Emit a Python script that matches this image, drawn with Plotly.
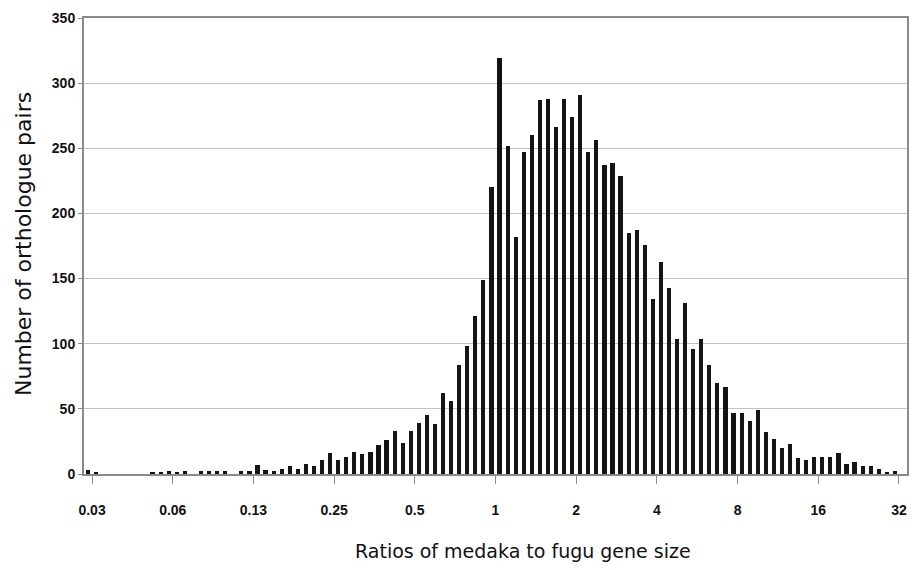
import plotly.graph_objects as go

# Histogram bins: bin k covers ratios 2^(k/10) .. 2^((k+1)/10)
bin_index = list(range(-51, 50))
counts = [
    3, 1, 0, 0, 0, 0, 0, 0,                      # k = -51 .. -44
    1, 1, 2, 1, 2, 0, 2, 2, 2, 2, 0, 2, 2, 7,    # k = -43 .. -30
    3, 2, 4, 6, 4, 8, 6, 11, 16, 11, 13, 17,     # k = -29 .. -18
    15, 17, 22, 26, 33, 24, 33, 39, 45, 38,      # k = -17 .. -8
    62, 56, 84, 98, 121, 149, 220,               # k = -7 .. -1
    319, 252, 182, 247, 260, 287, 288, 266, 288, 274,   # k = 0 .. 9
    291, 247, 256, 237, 239, 229, 185, 187, 176, 134,   # k = 10 .. 19
    163, 143, 104, 131, 96, 104, 84, 70, 67, 47,        # k = 20 .. 29
    47, 41, 49, 32, 27, 20, 23, 12, 11, 13,             # k = 30 .. 39
    13, 13, 16, 8, 9, 6, 6, 4, 1, 2,                    # k = 40 .. 49
]
tick_log2 = [-5, -4, -3, -2, -1, 0, 1, 2, 3, 4, 5]
tick_labels = ["0.03", "0.06", "0.13", "0.25", "0.5", "1", "2", "4", "8", "16", "32"]
y_ticks = [0, 50, 100, 150, 200, 250, 300, 350]

bins_per_doubling = 10
bin_centers = [(k + 0.5) / bins_per_doubling for k in bin_index]

fig = go.Figure()
fig.add_trace(go.Bar(
    x=bin_centers,
    y=counts,
    width=0.052,
    marker=dict(color="#141414", line=dict(width=0)),
    showlegend=False,
))

axis_grey = "#8a8a8a"
tick_font = dict(family="Liberation Sans, Arial, sans-serif", size=14, color="#111111", weight="bold")

# page body has an 8px default margin, so the figure is sized to fit the window
fig.update_layout(
    width=909,
    height=562,
    margin=dict(l=76, r=10, t=10, b=96),
    paper_bgcolor="white",
    plot_bgcolor="white",
    bargap=0,
    xaxis=dict(
        range=[-5.1, 5.1],
        tickmode="array",
        tickvals=tick_log2,
        ticktext=tick_labels,
        ticks="outside",
        ticklen=8,
        tickwidth=1,
        tickcolor=axis_grey,
        ticklabelstandoff=14,
        showgrid=False,
        zeroline=False,
        showline=True,
        linecolor=axis_grey,
        linewidth=2,
        mirror=True,
        tickfont=tick_font,
        automargin=False,
    ),
    yaxis=dict(
        range=[0, 350],
        tickmode="array",
        tickvals=y_ticks,
        ticks="outside",
        ticklen=4,
        tickcolor=axis_grey,
        showgrid=True,
        gridcolor="#c4c4c4",
        gridwidth=1.3,
        zeroline=False,
        showline=True,
        linecolor=axis_grey,
        linewidth=2,
        mirror=True,
        tickfont=tick_font,
        automargin=False,
    ),
    annotations=[
        dict(
            text="Ratios of medaka to fugu gene size",
            xref="paper", yref="paper",
            x=(523 - 84) / 823, y=-(551 - 474) / 456,
            xanchor="center", yanchor="middle",
            showarrow=False,
            font=dict(family="DejaVu Sans, sans-serif", size=19, color="#111111"),
        ),
        dict(
            text="Number of orthologue pairs",
            xref="paper", yref="paper",
            x=-(84 - 23) / 823, y=(474 - 244) / 456,
            xanchor="center", yanchor="middle",
            textangle=-90,
            showarrow=False,
            font=dict(family="DejaVu Sans, sans-serif", size=22, color="#111111"),
        ),
    ],
)

fig.write_html("out.html")
